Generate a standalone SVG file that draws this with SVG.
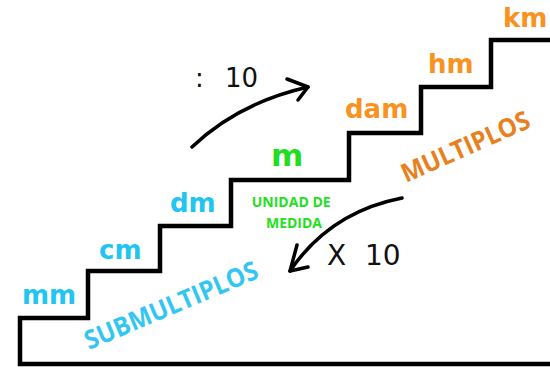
<svg xmlns="http://www.w3.org/2000/svg" width="550" height="368" viewBox="0 0 550 368">
<style>
.unit{font-family:"DejaVu Sans",Verdana,sans-serif;font-weight:bold;font-size:26px}
.sub{fill:#22C4F2}
.mul{fill:#F7931E}
.big{font-family:"Open Sans","Liberation Sans",sans-serif;font-weight:bold;font-size:26px}
.op{font-family:"DejaVu Sans",Verdana,sans-serif;font-size:26px;fill:#111}
.arrow{fill:none;stroke:#000;stroke-width:3.5;stroke-linecap:round;stroke-linejoin:round}
</style>
<rect width="550" height="368" fill="#fff"/>
<g id="stairs">
<path d="M550,364 H20 V318 H88 V271 H160 V226 H231 V180 H349 V133 H421 V87 H491 V40 H552" fill="none" stroke="#000" stroke-width="4.5" stroke-linejoin="miter"/>
</g>
<g id="mm"><text class="unit sub" x="22" y="304">mm</text></g>
<g id="cm"><text class="unit sub" x="99" y="259">cm</text></g>
<g id="dm"><text class="unit sub" x="170" y="212">dm</text></g>
<g id="m"><text class="unit" x="271" y="166" fill="#22DD22" style="font-size:31px">m</text></g>
<g id="dam"><text class="unit mul" x="345" y="118">dam</text></g>
<g id="hm"><text class="unit mul" x="428" y="73">hm</text></g>
<g id="km"><text class="unit mul" x="503" y="27">km</text></g>
<g id="unidad">
<text font-family="'Open Sans','Liberation Sans',sans-serif" font-weight="bold" font-size="14" fill="#22E022" text-anchor="middle">
<tspan x="293" y="207">UNIDAD DE</tspan>
<tspan x="294" y="228">MEDIDA</tspan>
</text>
</g>
<g id="multiplos"><text class="big" fill="#E8801E" transform="translate(406,183) rotate(-24)" textLength="138" lengthAdjust="spacingAndGlyphs">MULTIPLOS</text></g>
<g id="submultiplos"><text class="big" fill="#33C6F2" transform="translate(89,350) rotate(-23)" textLength="186" lengthAdjust="spacingAndGlyphs">SUBMULTIPLOS</text></g>
<g id="connectors">
<path class="arrow" d="M192,147 Q238,103 308,87"/>
<path class="arrow" d="M287,79 L308,87 L298,100"/>
<path class="arrow" d="M402,198 Q330,212 290,271"/>
<path class="arrow" d="M297,245 L290,271 L308,267"/>
</g>
<g id="div10"><text class="op"><tspan x="195" y="87">:</tspan><tspan x="225" y="87">10</tspan></text></g>
<g id="mul10"><text class="op" style="font-size:28px"><tspan x="327" y="265">X</tspan><tspan x="365" y="265">10</tspan></text></g>
</svg>
